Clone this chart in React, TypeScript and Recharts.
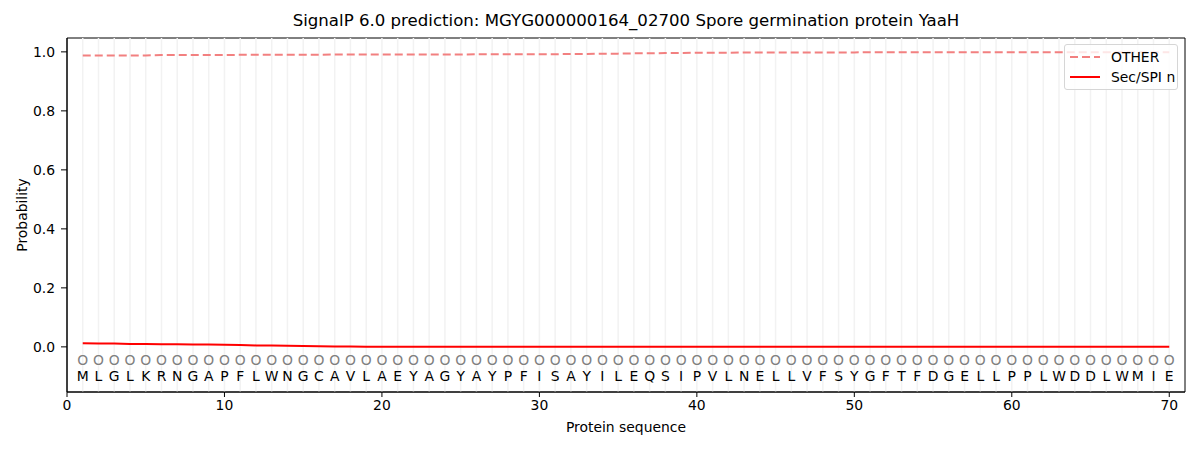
import React from "react";
import {
  LineChart,
  Line,
  XAxis,
  YAxis,
  ReferenceLine,
  ReferenceArea,
} from "recharts";

const sequence = "MLGLKRNGAPFLWNGCAVLAEYAGYAYPFISAYILEQSIPVLNELLVFSYGFTFDGELLPPLWDDLWMIE".split("");

const otherProb = [
  0.988, 0.988, 0.988, 0.988, 0.988, 0.989, 0.989, 0.989, 0.989, 0.989,
  0.99, 0.99, 0.99, 0.99, 0.99, 0.99, 0.991, 0.991, 0.991, 0.991,
  0.991, 0.991, 0.991, 0.991, 0.991, 0.992, 0.992, 0.992, 0.992, 0.992,
  0.992, 0.993, 0.993, 0.994, 0.994, 0.995, 0.995, 0.996, 0.996, 0.997,
  0.997, 0.997, 0.998, 0.998, 0.998, 0.998, 0.998, 0.998, 0.998, 0.998,
  0.999, 0.999, 0.999, 0.999, 0.999, 0.999, 0.999, 0.999, 0.999, 0.999,
  0.999, 0.999, 0.999, 0.999, 0.999, 0.999, 0.999, 0.999, 0.999, 0.999,
];

const secSpiN = [
  0.012, 0.011, 0.011, 0.01, 0.01, 0.009, 0.009, 0.008, 0.008, 0.007,
  0.006, 0.005, 0.005, 0.004, 0.003, 0.002, 0.001, 0.001, 0.0, 0.0,
  0, 0, 0, 0, 0, 0, 0, 0, 0, 0,
  0, 0, 0, 0, 0, 0, 0, 0, 0, 0,
  0, 0, 0, 0, 0, 0, 0, 0, 0, 0,
  0, 0, 0, 0, 0, 0, 0, 0, 0, 0,
  0, 0, 0, 0, 0, 0, 0, 0, 0, 0,
];

const xTicks = [0, 10, 20, 30, 40, 50, 60, 70];
const yTicks = [0, 0.2, 0.4, 0.6, 0.8, 1.0];

const X_DOMAIN = [0, 71];
const Y_DOMAIN = [-0.153, 1.047];

// row where the residue letters sit
const MARKER_Y = -0.045;

const data = sequence.map((aa, i) => ({
  pos: i + 1,
  aa,
  other: otherProb[i],
  secn: secSpiN[i],
}));

const font = "'DejaVu Sans', sans-serif";
const FS = 13.9;

function Residue(props: any) {
  const { cx, cy, payload, index } = props;
  if (cx == null || cy == null) return null;
  return (
    <g key={`res-${index}`}>
      <text x={cx} y={cy} textAnchor="middle" dominantBaseline="central" fontSize={FS} fill="#808080" fontFamily={font}>
        O
      </text>
      <text x={cx} y={cy + 16} textAnchor="middle" dominantBaseline="central" fontSize={FS} fill="#000" fontFamily={font}>
        {payload.aa}
      </text>
    </g>
  );
}

export default function App() {
  return (
    <div style={{ position: "absolute", left: 0, top: 0, width: 1200, height: 450, background: "#fff", fontFamily: font }}>
      <div style={{ position: "absolute", top: 11, left: 67, width: 1118, textAlign: "center", fontSize: 16.6, color: "#000" }}>
        SignalP 6.0 prediction: MGYG000000164_02700 Spore germination protein YaaH
      </div>

      <LineChart width={1200} height={450} data={data} margin={{ top: 38, right: 15, bottom: 8, left: 7 }}>
        {data.map((d) => (
          <ReferenceLine key={d.pos} x={d.pos} stroke="#f2f2f2" strokeWidth={1.5} />
        ))}
        <XAxis
          dataKey="pos"
          type="number"
          domain={X_DOMAIN}
          ticks={xTicks}
          height={50}
          tickSize={5}
          tickMargin={3}
          stroke="#000"
          tick={{ fill: "#000", fontSize: FS, fontFamily: font }}
          label={{ value: "Protein sequence", position: "insideBottom", offset: 10, fill: "#000", fontSize: FS, fontFamily: font }}
        />
        <YAxis
          type="number"
          domain={Y_DOMAIN}
          ticks={yTicks}
          width={60}
          tickSize={6}
          tickMargin={6}
          stroke="#000"
          tickFormatter={(v: number) => v.toFixed(1)}
          tick={{ fill: "#000", fontSize: FS, fontFamily: font }}
          label={{ value: "Probability", angle: -90, position: "insideLeft", offset: 15, fill: "#000", fontSize: FS, fontFamily: font, style: { textAnchor: "middle" } }}
        />
        <ReferenceArea
          x1={X_DOMAIN[0]}
          x2={X_DOMAIN[1]}
          y1={Y_DOMAIN[0]}
          y2={Y_DOMAIN[1]}
          fill="none"
          stroke="#000"
          strokeWidth={1}
          ifOverflow="visible"
        />
        <Line
          dataKey="other"
          stroke="#f28080"
          strokeWidth={2}
          strokeDasharray="8 4"
          dot={false}
          activeDot={false}
          isAnimationActive={false}
        />
        <Line
          dataKey="secn"
          stroke="#ff0000"
          strokeWidth={2}
          dot={false}
          activeDot={false}
          isAnimationActive={false}
        />
        <Line
          dataKey={() => MARKER_Y}
          stroke="none"
          dot={Residue}
          activeDot={false}
          isAnimationActive={false}
        />
      </LineChart>

      <div
        style={{
          position: "absolute",
          left: 1064,
          top: 44,
          width: 114,
          height: 46,
          boxSizing: "border-box",
          border: "1px solid #d6d6d6",
          borderRadius: 3,
          background: "rgba(255,255,255,0.8)",
          fontSize: FS,
          color: "#000",
        }}
      >
        <div style={{ position: "absolute", left: 5, top: 4, display: "flex", alignItems: "center", height: 16 }}>
          <svg width={30} height={4} style={{ marginRight: 11 }}>
            <line x1={0} y1={2} x2={30} y2={2} stroke="#f28080" strokeWidth={2} strokeDasharray="8 4" />
          </svg>
          OTHER
        </div>
        <div style={{ position: "absolute", left: 5, top: 24, display: "flex", alignItems: "center", height: 16 }}>
          <svg width={30} height={4} style={{ marginRight: 11 }}>
            <line x1={0} y1={2} x2={30} y2={2} stroke="#ff0000" strokeWidth={2} />
          </svg>
          Sec/SPI n
        </div>
      </div>
    </div>
  );
}
